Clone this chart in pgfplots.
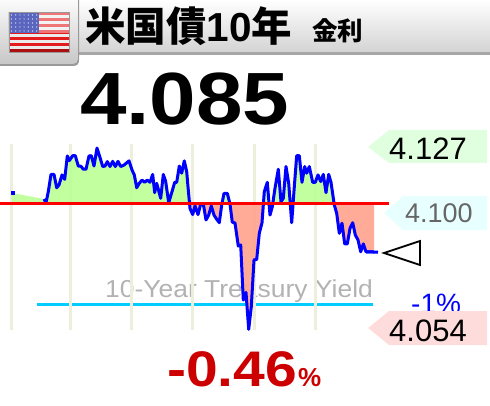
\documentclass[border=0pt]{standalone}
\usepackage{fontspec}
\setmainfont{Liberation Sans}
\newfontfamily\cjk{Noto Sans CJK JP}
\usepackage{pgfplots}
\pgfplotsset{compat=1.18}
\usepackage{pgfplotstable}

\definecolor{gridc}{HTML}{EEEEDD}
\definecolor{upfill}{HTML}{BCFF98}
\definecolor{downfill}{HTML}{FFA590}
\definecolor{minusline}{HTML}{00CCFF}
\definecolor{flagred}{HTML}{E41C1C}
\definecolor{flagblue}{HTML}{5A66BE}
\definecolor{lblgreen}{HTML}{DFFFDF}
\definecolor{lblcyan}{HTML}{E8FFFF}
\definecolor{lblred}{HTML}{FFDCDC}

% yield (from the 2nd point on the blue line is continuous)
\pgfplotstableread{
x y
11.7 4.1085
44 4.1060
46 4.1045
48.3 4.1090
51 4.1160
54 4.1160
56.7 4.1106
59 4.1117
62 4.1158
64.7 4.1140
67.3 4.1235
69.3 4.1216
72.7 4.1236
75.3 4.1236
78.3 4.1194
81 4.1193
83.3 4.1181
86 4.1181
89 4.1235
91.3 4.1236
94 4.1194
97 4.1267
100 4.1229
102.7 4.1192
105 4.1194
107.3 4.1212
110 4.1192
112.7 4.1213
115.3 4.1192
118 4.1213
120.7 4.1192
124 4.1198
129 4.1215
132 4.1178
134.3 4.1158
136.7 4.1106
139.3 4.1124
142 4.1137
144.7 4.1128
147.3 4.1137
150 4.1128
152.7 4.1160
154.7 4.1086
156.7 4.1124
160.7 4.1063
163.3 4.1160
165.7 4.1131
168.7 4.1045
172 4.1090
174.7 4.1128
176.7 4.1128
179.3 4.1194
181.7 4.1165
184.3 4.1215
186.7 4.1171
188 4.1110
190 4.1022
192.7 4.0997
195 4.1032
198 4.0997
200.7 4.1040
203.3 4.1040
206 4.0975
208.7 4.0995
211.3 4.1032
214 4.0995
216.7 4.0978
219.3 4.0964
221.7 4.1036
224 4.1083
227.3 4.1083
230 4.1040
232.3 4.0966
235 4.0963
238.3 4.0869
240.7 4.0874
243.3 4.0650
246 4.0681
248.7 4.0531
251.3 4.0623
254 4.0813
256.7 4.0815
259.3 4.0921
262 4.0964
264.3 4.1090
267.3 4.1128
270 4.0995
272.3 4.1029
275 4.1104
278.3 4.1181
281 4.1049
283.3 4.1063
286 4.1192
288.7 4.1124
291.7 4.0964
294.3 4.1110
296.7 4.1236
299.3 4.1236
302 4.1128
304.7 4.1192
306.7 4.1165
309.3 4.1192
312.7 4.1128
315.3 4.1128
318 4.1158
320.7 4.1131
323.3 4.1160
326 4.1086
328.7 4.1160
331 4.1128
334.3 4.1036
336.7 4.1002
339.3 4.0921
342 4.0962
344.7 4.0878
347.3 4.0878
350 4.0941
352.7 4.0964
355.3 4.0914
358 4.0894
360.7 4.0846
363.3 4.0878
366 4.0846
374 4.0845
}\yielddata

\begin{document}
\begin{tikzpicture}
\useasboundingbox (0,0) rectangle (490pt,405pt);

% header, flag and labels, in pixels from the top left
\begin{scope}[x=1pt,y=-1pt,yshift=405pt]
  \shade[top color=white,bottom color=black!17] (0,0) rectangle (490,52);
  \fill[black!35] (0,52) rectangle (490,55);
  \fill[black!40] (-8,-5) -- (-8,66) -- (73,66) .. controls (77,66) and (79,64) .. (79,60) -- (79,-5) -- cycle;
  \shade[top color=white,bottom color=black!22,rounded corners=5pt] (-8,-5) -- (-8,64) -- (78,64) -- (78,-5) -- cycle;
  % flag
  \fill[black!18] (8,12) rectangle (70,55);
  \fill[white!92!black] (9,12) rectangle (69,52);
  \foreach \i in {0,2,...,12} {
    \fill[flagred] (9,12+\i*3.08) rectangle (69,12+\i*3.08+3.08);
  }
  \fill[white,opacity=.4] (9,12) rectangle (69,33);
  \fill[black!60!red,opacity=.45] (9,49) rectangle (69,52);
  \fill[flagblue] (9,12) rectangle (39,33);
  \foreach \r in {0,...,4} \foreach \c in {0,...,6} {
    \fill[white] (11.5+\c*4.2,15+\r*4) circle (.6);
  }
  \draw[black!40,line width=.5pt] (9,12) rectangle (69,52);

  \node[anchor=base west,inner sep=0] at (85,42) {\fontsize{40.5}{41}\selectfont\cjk\bfseries 米国債\rmfamily\bfseries 10\cjk 年};
  \node[anchor=base west,inner sep=0] at (312,41) {\fontsize{25.5}{26}\selectfont\cjk\bfseries 金利};
  \node[anchor=base west,inner sep=0] at (80,125) {\scalebox{1.13}[1]{\fontsize{74}{74}\selectfont\bfseries 4.085}};

  \node[anchor=base west,inner sep=0,text=black!30] at (105,297) {\scalebox{1.08}[1]{\fontsize{24.5}{25}\selectfont 10-Year Treasury Yield}};
  \node[anchor=base west,inner sep=0,text=blue] at (411,313) {\fontsize{28}{28}\selectfont -1\%};

  \fill[lblgreen] (368,147) -- (389,130) -- (487,130) -- (487,163) -- (389,163) -- cycle;
  \fill[lblcyan] (384,213) -- (403,196) -- (487,196) -- (487,230) -- (403,230) -- cycle;
  \fill[lblred] (368,328) -- (389,311) -- (487,311) -- (487,345) -- (389,345) -- cycle;
  \node[anchor=base west,inner sep=0] at (389,160) {\fontsize{31}{31}\selectfont 4.127};
  \node[anchor=base west,inner sep=0,text=black!60] at (405,222) {\fontsize{27}{27}\selectfont 4.100};
  \node[anchor=base west,inner sep=0] at (389,341) {\fontsize{31}{31}\selectfont 4.054};

  \draw[black,line width=1.8pt,fill=white] (384,253) -- (420,241) -- (420,265) -- cycle;

  \node[anchor=base west,inner sep=0,text=red!80!black] at (167,386) {\scalebox{1.14}[1]{\fontsize{50}{50}\selectfont\bfseries -0.46}\kern1pt{\fontsize{26}{26}\selectfont\bfseries\%}};
\end{scope}

\begin{axis}[
  at={(0,0)},anchor=south west,
  scale only axis,
  width=490pt,height=405pt,
  xmin=0,xmax=490,
  ymin=4.0224,ymax=4.1868,
  hide axis,
  clip=false,
]
  % -1% line
  \addplot[minusline,line width=3pt] coordinates {(37,4.063)(372.5,4.063)};

  % vertical guides
  \addplot[gridc,line width=3pt] coordinates {(11.7,4.1284)(11.7,4.0528)};
  \addplot[gridc,line width=3pt] coordinates {(70,4.1284)(70,4.0528)};
  \addplot[gridc,line width=3pt] coordinates {(131,4.1284)(131,4.0528)};
  \addplot[gridc,line width=3pt] coordinates {(192.5,4.1284)(192.5,4.0528)};
  \addplot[gridc,line width=3pt] coordinates {(254,4.1284)(254,4.0528)};
  \addplot[gridc,line width=3pt] coordinates {(315,4.1284)(315,4.0528)};

  % areas above and below the previous close
  \addplot[draw=none,fill=upfill,fill opacity=.93,y filter/.expression={y<4.104 ? 4.104 : y}]
    table[x=x,y=y] {\yielddata} -- (axis cs:374,4.104) -- (axis cs:11.7,4.104) -- cycle;
  \addplot[draw=none,fill=downfill,fill opacity=.93,y filter/.expression={y>4.104 ? 4.104 : y}]
    table[x=x,y=y] {\yielddata} -- (axis cs:374,4.104) -- (axis cs:11.7,4.104) -- cycle;

  % yield line
  \addplot[blue,line width=3pt,line join=round] table[x=x,y=y,skip coords between index={0}{1}] {\yielddata};
  \addplot[blue,line width=3pt] coordinates {(366,4.0846)(374,4.0845)(378,4.0844)};
  \addplot[blue,only marks,mark=square*,mark size=1.4pt] coordinates {(12.7,4.1085)};

  % previous close
  \addplot[red,line width=3pt] coordinates {(0,4.104)(389,4.104)};
\end{axis}
\end{tikzpicture}
\end{document}
